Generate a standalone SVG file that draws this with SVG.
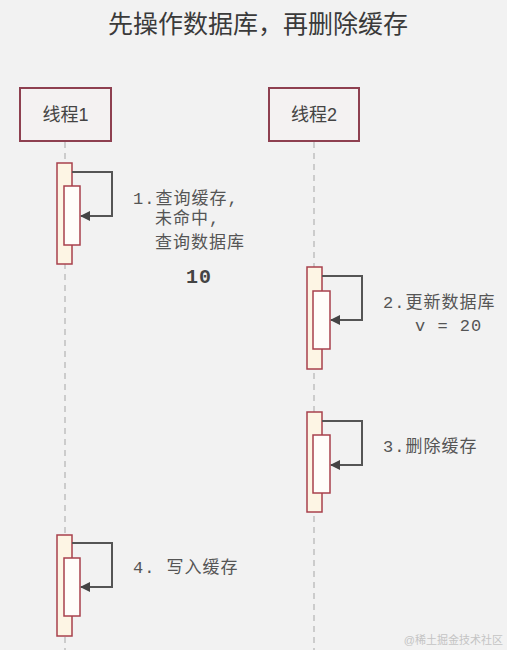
<svg xmlns="http://www.w3.org/2000/svg" width="507" height="650" viewBox="0 0 507 650">
<defs>
<marker id="ah" markerWidth="10" markerHeight="10" refX="9" refY="5" orient="auto" markerUnits="userSpaceOnUse">
<path d="M0,0 L10,5 L0,10 Z" fill="#444"/>
</marker>
<style>
.bg{fill:#f2f2f2}
.title{font-family:"Liberation Sans","Noto Sans CJK SC",sans-serif;font-size:25px;fill:#3a3a3a;text-anchor:middle}
.head{fill:#f4f2f2;stroke:#8e4050;stroke-width:2}
.htxt{font-family:"Liberation Sans","Noto Sans CJK SC",sans-serif;font-size:18px;fill:#444;text-anchor:middle}
.life{stroke:#c0c0c0;stroke-width:1.5;stroke-dasharray:6,5;fill:none}
.act{fill:#fdf5e4;stroke:#a8404c;stroke-width:1.5}
.act2{fill:#fffdfa;stroke:#a8404c;stroke-width:1.5}
.conn{fill:none;stroke:#555;stroke-width:2}
.lbl{font-family:"Liberation Mono","Noto Sans CJK SC",monospace;font-size:17px;letter-spacing:1px;fill:#555}
.num{font-family:"Liberation Mono",monospace;font-size:20px;letter-spacing:1px;font-weight:bold;fill:#444}
.wm{font-family:"Liberation Sans","Noto Sans CJK SC",sans-serif;font-size:11px;fill:#c4c4c4;text-anchor:end}
</style>
</defs>
<rect class="bg" x="0" y="0" width="507" height="650"/>
<text class="title" x="258" y="33">先操作数据库，再删除缓存</text>
<g id="lifelines">
<line class="life" x1="65" y1="142" x2="65" y2="650"/>
<line class="life" x1="314" y1="142" x2="314" y2="650"/>
</g>
<g id="thread1">
<rect class="head" x="20" y="88" width="91" height="53"/>
<text class="htxt" x="65.5" y="121">线程1</text>
</g>
<g id="thread2">
<rect class="head" x="269" y="88" width="90" height="53"/>
<text class="htxt" x="314" y="121">线程2</text>
</g>
<g id="step1">
<rect class="act" x="57" y="163" width="15" height="101"/>
<rect class="act2" x="64" y="186" width="16" height="59"/>
<text class="lbl" x="133" y="204">1.查询缓存,</text>
<text class="lbl" x="155" y="224">未命中,</text>
<text class="lbl" x="155" y="248">查询数据库</text>
<text class="num" x="186" y="283">10</text>
</g>
<g id="step2">
<rect class="act" x="307" y="267" width="15" height="102"/>
<rect class="act2" x="313" y="291" width="17" height="58"/>
<text class="lbl" x="383" y="308">2.更新数据库</text>
<text class="lbl" x="415" y="331">v = 20</text>
</g>
<g id="step3">
<rect class="act" x="307" y="412" width="15" height="100"/>
<rect class="act2" x="313" y="435" width="17" height="58"/>
<text class="lbl" x="383" y="452">3.删除缓存</text>
</g>
<g id="step4">
<rect class="act" x="57" y="535" width="15" height="101"/>
<rect class="act2" x="64" y="558" width="16" height="58"/>
<text class="lbl" x="133" y="573">4. 写入缓存</text>
</g>
<g id="connectors">
<polyline class="conn" points="72,172 112,172 112,216 81,216" marker-end="url(#ah)"/>
<polyline class="conn" points="322,276 362,276 362,320 331,320" marker-end="url(#ah)"/>
<polyline class="conn" points="322,421 362,421 362,465 331,465" marker-end="url(#ah)"/>
<polyline class="conn" points="72,543 112,543 112,587 81,587" marker-end="url(#ah)"/>
</g>
<text class="wm" x="503" y="644">@稀土掘金技术社区</text>
</svg>
